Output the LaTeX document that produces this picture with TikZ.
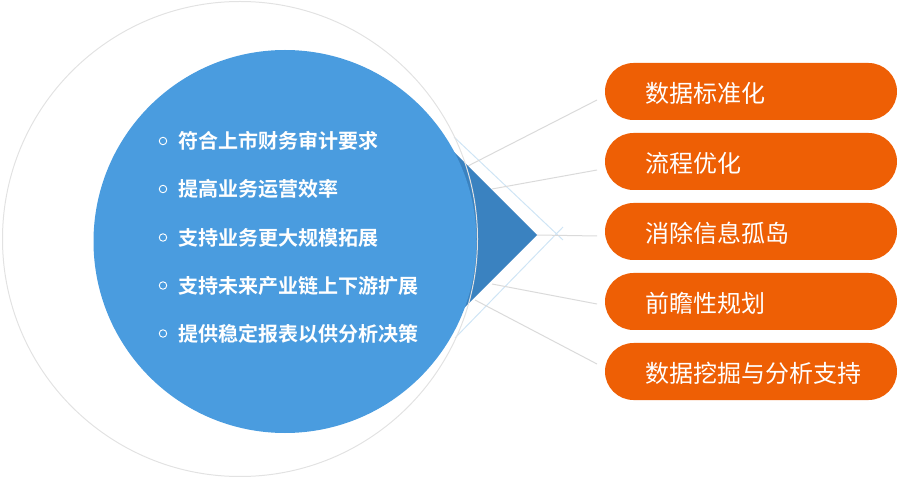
\documentclass[tikz,border=0pt]{standalone}
\usepackage{fontspec}
\newfontfamily\cjk{Noto Sans CJK SC}
\newfontfamily\cjkb{Noto Sans CJK SC Bold}
\definecolor{bigblue}{HTML}{4A9CDF}
\definecolor{triblue}{HTML}{3A82C0}
\definecolor{pillorange}{HTML}{EE5F05}
\definecolor{paleblue}{HTML}{CFE5F5}
\definecolor{linegray}{HTML}{DADADA}
\definecolor{ringgray}{HTML}{E2E2E2}
\tikzset{
  pill/.style={fill=pillorange, rounded corners=28.5pt},
  pilltext/.style={anchor=west, inner sep=0pt, text=white, font=\cjk\fontsize{24}{28}\selectfont},
  itemtext/.style={anchor=west, inner sep=0pt, text=white, font=\cjkb\fontsize{20}{24}\selectfont},
  bulletmark/.style={draw=white, line width=0.9pt, circle, minimum size=7.5pt, inner sep=0pt},
  thinline/.style={draw=linegray, line width=1pt},
  paleline/.style={draw=paleblue, line width=1pt}
}
\begin{document}
\begin{tikzpicture}[x=1pt,y=-1pt]
\useasboundingbox (0,0) rectangle (897,478);
% pale chevron lines
\coordinate (pa1) at (454,137);
\coordinate (pa2) at (563,240);
\coordinate (pb1) at (455,338);
\coordinate (pb2) at (563,227);
\draw[paleline] (pa1) -- (pa2);
\draw[paleline] (pb1) -- (pb2);
% gray connector lines
\coordinate (s1) at (466,167);
\coordinate (s2) at (492,189);
\coordinate (s3) at (537,235);
\coordinate (s4) at (492,284);
\coordinate (s5) at (475,300);
\coordinate (e1) at (597,100);
\coordinate (e2) at (597,170);
\coordinate (e3) at (597,236);
\coordinate (e4) at (597,304);
\coordinate (e5) at (597,364);
\foreach \i in {1,...,5}{\draw[thinline] (s\i) -- (e\i);}
% triangle
\fill[triblue] (537,235) -- (437,135) -- (437,335) -- cycle;
% big blue circle
\fill[bigblue] (285,241.5) circle[radius=191.5];
% outer ring
\draw[ringgray, line width=1pt] (240,239) circle[radius=237.5];
% left items
\foreach \y/\t [count=\k] in {141/符合上市财务审计要求,189/提高业务运营效率,237.5/支持业务更大规模拓展,285.5/支持未来产业链上下游扩展,333.5/提供稳定报表以供分析决策}{
  \node[bulletmark] (b\k) at (163,\y) {};
  \node[itemtext] (t\k) at (178,\y) {\t};
}
% pills
\foreach \y/\t [count=\k] in {91.5/数据标准化,161.5/流程优化,231.5/消除信息孤岛,301.5/前瞻性规划,371.5/数据挖掘与分析支持}{
  \fill[pill] (605,\y-28.5) rectangle (897,\y+28.5);
  \node[pilltext] (p\k) at (645,\y+2) {\t};
}
\end{tikzpicture}
\end{document}
